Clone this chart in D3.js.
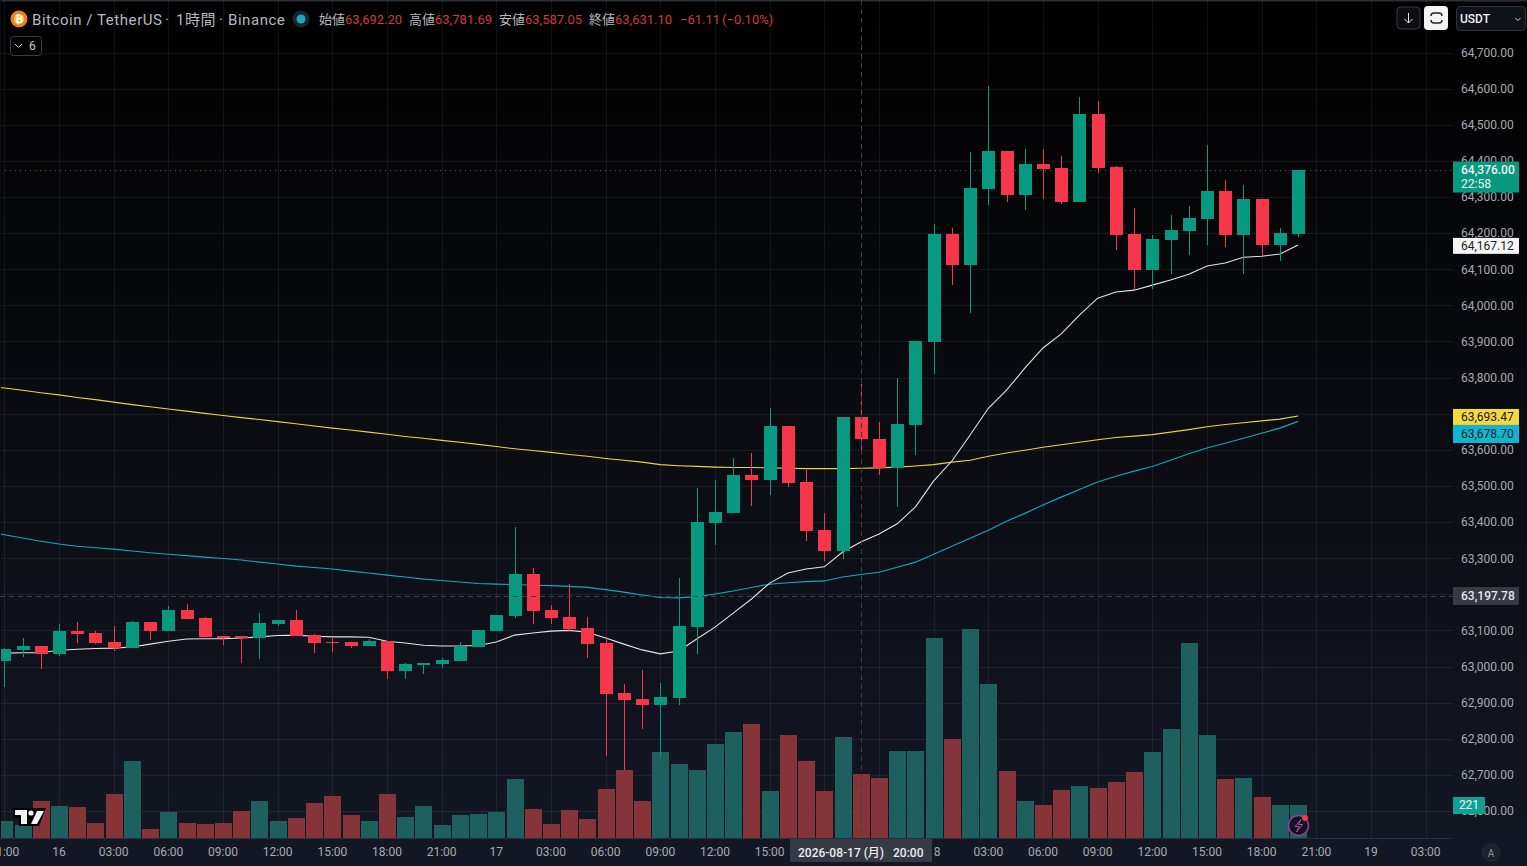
<!DOCTYPE html>
<html>
<head>
<meta charset="utf-8">
<style>
  html, body { margin: 0; padding: 0; background: #000; overflow: hidden; }
  svg { display: block; font-family: Roboto, "Noto Sans CJK JP", sans-serif; }
</style>
<script src="https://cdn.jsdelivr.net/npm/d3@7"></script>
</head>
<body>
<svg></svg>
<script>
const width = 1527;
const height = 866;
const plotBottom = 838;
const plotRight = 1453;

// hours counted from 08-16 00:00, first candle is 08-15 21:00
const firstHour = -3;

const opens = [63015,63046,63057,63035,63098,63093,63068,63051,63123,63098,63156,63134,63084,63084,63079,63118,63129,63087,63068,63068,63057,63071,62987,63004,63007,63015,63054,63098,63140,63256,63156,63137,63106,63065,62926,62910,62893,62912,63109,63397,63425,63530,63517,63666,63511,63378,63320,63692.20,63631,63550,63669,63898,64197,64111,64322,64427,64305,64391,64380,64286,64529,64383,64197,64097,64180,64205,64239,64316,64194,64294,64167,64197];
const highs = [63051,63079,63057,63118,63123,63098,63112,63126,63123,63167,63173,63137,63084,63084,63148,63129,63156,63090,63082,63068,63076,63071,63010,63010,63023,63068,63101,63142,63386,63273,63170,63228,63137,63082,62951,62990,62954,63245,63494,63517,63577,63591,63715,63666,63544,63425,63691,63781.69,63677,63798,63901,64225,64214,64424,64607,64427,64432,64432,64413,64577,64565,64386,64269,64194,64250,64275,64444,64347,64333,64294,64214,64376];
const lows = [62943,63026,62993,63029,63065,63062,63043,63051,63073,63098,63131,63082,63059,63010,63021,63112,63084,63037,63040,63051,63057,62965,62965,62979,62996,63015,63054,63098,63134,63118,63118,63098,63023,62752,62713,62827,62749,62893,63035,63336,63425,63444,63475,63497,63347,63292,63298,63587.05,63530,63442,63586,63810,64056,63979,64278,64286,64264,64294,64280,64286,64366,64153,64042,64045,64086,64139,64167,64161,64086,64136,64122,64189];
const closes = [63048,63057,63035,63098,63090,63065,63051,63123,63098,63156,63131,63082,63080,63080,63120,63129,63084,63065,63065,63057,63071,62987,63007,63010,63018,63057,63101,63142,63256,63154,63134,63104,63062,62924,62907,62893,62915,63112,63400,63428,63530,63517,63666,63508,63375,63320,63691,63631.10,63550,63671,63901,64197,64111,64325,64427,64305,64391,64377,64286,64529,64380,64194,64097,64183,64208,64241,64316,64194,64294,64167,64200,64376];
const volumes = [114,87,248,214,208,100,295,516,60,174,100,94,100,181,248,114,134,235,281,154,114,295,141,214,87,154,161,174,395,194,94,188,127,328,456,248,576,496,456,630,710,764,315,690,516,315,677,429,402,583,583,1340,663,1400,1032,449,248,221,322,348,335,375,442,576,730,1306,690,395,402,275,221,221];

const maFast = [63037,63038,63038,63045,63048,63050,63051,63054,63062,63070,63076,63077,63077,63079,63082,63086,63087,63084,63082,63082,63081,63070,63065,63059,63057,63057,63058,63068,63087,63093,63098,63100,63095,63079,63062,63046,63035,63043,63076,63109,63148,63187,63231,63259,63270,63276,63317,63345,63367,63395,63442,63514,63569,63641,63715,63765,63826,63882,63921,63973,64020,64037,64042,64056,64070,64086,64109,64117,64133,64136,64142,64167.12];
// these two start one hour before the first candle, the line runs off the left edge
const maSlow = [63778,63771,63765,63758,63752,63745,63739,63732,63725,63719,63713,63707,63701,63695,63689,63684,63678,63672,63666,63660,63655,63649,63643,63637,63632,63626,63621,63615,63609,63603,63598,63593,63587,63582,63576,63571,63566,63559,63556,63554,63552,63551,63551,63550,63549,63548,63548,63548,63549,63550,63552,63555,63559,63566,63571,63582,63591,63599,63607,63614,63621,63628,63634,63638,63642,63649,63656,63664,63670,63675,63680,63685,63693.47];
const maMid = [63375,63365,63356,63347,63339,63333,63329,63325,63320,63315,63311,63307,63303,63299,63295,63289,63284,63278,63274,63270,63264,63259,63253,63248,63242,63238,63234,63230,63228,63227,63225,63224,63222,63219,63213,63206,63198,63191,63190,63193,63201,63209,63219,63228,63232,63235,63237,63248,63255,63261,63275,63289,63311,63333,63355,63377,63402,63424,63447,63469,63490,63511,63527,63541,63554,63571,63589,63605,63618,63632,63646,63660,63678.70];

const priceTicks = [64700,64600,64500,64400,64300,64200,64100,64000,63900,63800,63700,63600,63500,63400,63300,63200,63100,63000,62900,62800,62700,62600];
// these two sit fully under the price tags in the picture
const coveredPrices = [63700, 63200];
const hourTicks = [-3,0,3,6,9,12,15,18,21,24,27,30,33,36,39,42,45,48,51,54,57,60,63,66,69,72,75];
// 42 and 45 are under the crosshair time label
const hourLabels = ["21:00","16","03:00","06:00","09:00","12:00","15:00","18:00","21:00","17","03:00","06:00","09:00","12:00","15:00","","","18","03:00","06:00","09:00","12:00","15:00","18:00","21:00","19","03:00"];

const lastPrice = 64376;
const crossPrice = 63197.78;
const crossHour = 44;
const lastVolume = 221;

const legendCells = [
    ["始値", "63,692.20", 319],
    ["高値", "63,781.69", 409],
    ["安値", "63,587.05", 499],
    ["終値", "63,631.10", 589],
];

const upColor = "#089981";
const downColor = "#f6364a";
const upVolColor = "#1d605f";
const downVolColor = "#85343a";
const labelColor = "#a9abb0";
const legendRed = "#d03845";

const x = d3.scaleLinear().domain([0, 72]).range([59, 1371]);
const y = d3.scaleLinear().domain([64700, 62600]).range([52.5, 811]);
const yVol = d3.scaleLinear().domain([0, 1400]).range([plotBottom, 629]);

const svg = d3.select("svg")
    .attr("width", width)
    .attr("height", height)
    .attr("viewBox", `0 0 ${width} ${height}`);

const grad = svg.append("defs").append("linearGradient")
    .attr("id", "bg").attr("x1", 0).attr("x2", 0).attr("y1", 0).attr("y2", 1);
grad.append("stop").attr("offset", "0%").attr("stop-color", "#000000");
grad.append("stop").attr("offset", "12%").attr("stop-color", "#030304");
grad.append("stop").attr("offset", "100%").attr("stop-color", "#141824");

svg.append("rect").attr("width", width).attr("height", height).attr("fill", "url(#bg)");
svg.append("rect").attr("width", width).attr("height", 1.5).attr("fill", "#2a2e39");

// grid
svg.append("g").selectAll("line")
    .data(hourTicks)
    .enter().append("line")
    .attr("x1", d => Math.round(x(d)) + 0.5)
    .attr("x2", d => Math.round(x(d)) + 0.5)
    .attr("y1", 0)
    .attr("y2", plotBottom)
    .attr("stroke", "rgba(255,255,255,0.065)");

svg.append("g").selectAll("line")
    .data(priceTicks)
    .enter().append("line")
    .attr("x1", 0)
    .attr("x2", plotRight)
    .attr("y1", d => Math.round(y(d)) + 0.5)
    .attr("y2", d => Math.round(y(d)) + 0.5)
    .attr("stroke", "rgba(255,255,255,0.065)");

svg.append("line")
    .attr("x1", 0).attr("x2", plotRight)
    .attr("y1", plotBottom + 0.5).attr("y2", plotBottom + 0.5)
    .attr("stroke", "rgba(255,255,255,0.1)");

// volume
svg.append("g").selectAll("rect")
    .data(volumes)
    .enter().append("rect")
    .attr("x", (d, i) => Math.round(x(firstHour + i)) - 8)
    .attr("width", 17)
    .attr("y", d => yVol(d))
    .attr("height", d => plotBottom - yVol(d))
    .attr("fill", (d, i) => closes[i] >= opens[i] ? upVolColor : downVolColor)
    .attr("shape-rendering", "crispEdges");

// moving averages
const addLine = (values, startHour, color) => svg.append("path")
    .datum(values)
    .attr("fill", "none")
    .attr("stroke", color)
    .attr("stroke-width", 1.1)
    .attr("d", d3.line().x((d, i) => x(startHour + i)).y(d => y(d)));

addLine(maSlow, firstHour - 1, "#e8d24a");
addLine(maMid, firstHour - 1, "#12a9bd");
addLine(maFast, firstHour, "#e4e4e4");

// last price dotted line
svg.append("line")
    .attr("x1", 0).attr("x2", plotRight)
    .attr("y1", Math.round(y(lastPrice)) + 0.5).attr("y2", Math.round(y(lastPrice)) + 0.5)
    .attr("stroke", upColor)
    .attr("stroke-opacity", 0.85)
    .attr("stroke-dasharray", "1 4");

// candles
const candles = svg.append("g").selectAll("g")
    .data(opens)
    .enter().append("g")
    .attr("fill", (d, i) => closes[i] >= d ? upColor : downColor);

candles.append("rect")
    .attr("x", (d, i) => Math.round(x(firstHour + i)))
    .attr("width", 1)
    .attr("y", (d, i) => y(highs[i]))
    .attr("height", (d, i) => y(lows[i]) - y(highs[i]))
    .attr("shape-rendering", "crispEdges");

candles.append("rect")
    .attr("x", (d, i) => Math.round(x(firstHour + i)) - 6)
    .attr("width", 13)
    .attr("y", (d, i) => y(Math.max(d, closes[i])))
    .attr("height", (d, i) => Math.max(1, Math.abs(y(d) - y(closes[i]))))
    .attr("shape-rendering", "crispEdges");

// 1px border on the far left cuts the first candle
svg.append("rect").attr("width", 1).attr("height", plotBottom).attr("fill", "#0b0d12");

// crosshair
svg.append("line")
    .attr("x1", Math.round(x(crossHour)) + 0.5).attr("x2", Math.round(x(crossHour)) + 0.5)
    .attr("y1", 0).attr("y2", plotBottom)
    .attr("stroke", "#3c3f49")
    .attr("stroke-dasharray", "5 4");
svg.append("line")
    .attr("x1", 0).attr("x2", plotRight)
    .attr("y1", Math.ceil(y(crossPrice)) + 0.5).attr("y2", Math.ceil(y(crossPrice)) + 0.5)
    .attr("stroke", "#3c3f49")
    .attr("stroke-dasharray", "5 4");

// axes
const yAxis = d3.axisRight(y)
    .tickValues(priceTicks)
    .tickSize(0)
    .tickPadding(0)
    .tickFormat(d => coveredPrices.includes(d) ? "" : d3.format(",.2f")(d));
const yAxisG = svg.append("g").attr("transform", "translate(1461,0)").call(yAxis);
yAxisG.select(".domain").remove();
yAxisG.selectAll("text")
    .attr("fill", labelColor)
    .style("font-size", "12px")
    .style("font-family", "Roboto, sans-serif");

const xAxis = d3.axisBottom(x)
    .tickValues(hourTicks)
    .tickSize(0)
    .tickPadding(9)
    .tickFormat((d, i) => hourLabels[i]);
const xAxisG = svg.append("g").attr("transform", `translate(-0.5,${plotBottom})`).call(xAxis);
xAxisG.select(".domain").remove();
xAxisG.selectAll("text")
    .attr("fill", labelColor)
    .style("font-size", "12px")
    .style("font-family", "Roboto, sans-serif");

// price tags on the right scale, shift moves a tag off its exact price like the chart does when they collide
const tag = (value, text, bg, fg, h, shift, weight) => {
    const cy = y(value) + shift;
    svg.append("rect")
        .attr("x", plotRight).attr("y", cy - h / 2)
        .attr("width", 66).attr("height", h)
        .attr("fill", bg);
    svg.append("text")
        .attr("x", 1461).attr("y", cy)
        .attr("dy", "0.36em")
        .attr("fill", fg)
        .style("font-size", "12px")
        .style("font-weight", weight || 400)
        .text(text);
};

tag(63197.78, "63,197.78", "#363a45", "#e6e6e6", 18, 0.9, 500);
tag(63693.47, "63,693.47", "#f5d93c", "#1a1a1a", 16, 0.9);
tag(63678.70, "63,678.70", "#12b5cf", "#10202a", 18, 12.6);
tag(64167.12, "64,167.12", "#f5f5f5", "#222222", 16, 0.9);

const lastY = y(lastPrice);
svg.append("rect")
    .attr("x", plotRight).attr("y", lastY - 8)
    .attr("width", 66).attr("height", 31)
    .attr("fill", upColor);
svg.append("text").attr("x", 1461).attr("y", lastY + 4.5)
    .attr("fill", "#f2f2f2").style("font-size", "12px").style("font-weight", 500)
    .text("64,376.00");
svg.append("text").attr("x", 1461).attr("y", lastY + 18.5)
    .attr("fill", "#f2f2f2").style("font-size", "12px")
    .text("22:58");

// volume tag
svg.append("rect")
    .attr("x", plotRight).attr("y", yVol(lastVolume) - 8)
    .attr("width", 32).attr("height", 17)
    .attr("fill", "#0fa193");
svg.append("text")
    .attr("x", plotRight + 16).attr("y", yVol(lastVolume))
    .attr("dy", "0.36em")
    .attr("text-anchor", "middle")
    .attr("fill", "#f2f2f2")
    .style("font-size", "12px")
    .text(lastVolume);

// crosshair time label
svg.append("rect")
    .attr("x", 790).attr("y", plotBottom + 1)
    .attr("width", 142).attr("height", 23)
    .attr("fill", "#363a45");
svg.append("text")
    .attr("x", 798).attr("y", 857)
    .attr("fill", "#ececec")
    .style("font-size", "12px").style("font-weight", 500)
    .text("2026-08-17 (月)");
svg.append("text")
    .attr("x", 893).attr("y", 857)
    .attr("fill", "#ececec")
    .style("font-size", "12px").style("font-weight", 500)
    .text("20:00");

// legend row
svg.append("circle").attr("cx", 19).attr("cy", 19).attr("r", 8.5).attr("fill", "#f0811a");
svg.append("circle").attr("cx", 19).attr("cy", 19).attr("r", 5).attr("fill", "#f6c64a");
svg.append("text").attr("x", 19).attr("y", 22.5)
    .attr("text-anchor", "middle").attr("fill", "#fff")
    .style("font-size", "10px").style("font-weight", 700).text("₿");

[["Bitcoin / TetherUS", 32], ["·", 165], ["1時間", 176], ["·", 219], ["Binance", 228]].forEach(([t, tx]) => {
    svg.append("text")
        .attr("x", tx).attr("y", 25)
        .attr("fill", "#b6b8bd")
        .style("font-size", "15px")
        .style("letter-spacing", "0.55px")
        .text(t);
});

svg.append("circle").attr("cx", 301).attr("cy", 19).attr("r", 8.5).attr("fill", "#1b2431");
svg.append("circle").attr("cx", 301).attr("cy", 19).attr("r", 4.5).attr("fill", "#1aa5b8");

legendCells.forEach(([label, value, lx]) => {
    svg.append("text").attr("x", lx).attr("y", 24)
        .attr("fill", "#b6b8bd").style("font-size", "13px").text(label);
    svg.append("text").attr("x", lx + 26).attr("y", 24)
        .attr("fill", legendRed).style("font-size", "13px").text(value);
});
svg.append("text").attr("x", 680).attr("y", 24)
    .attr("fill", legendRed).style("font-size", "13px").text("−61.11");
svg.append("text").attr("x", 722).attr("y", 24)
    .attr("fill", legendRed).style("font-size", "13px").text("(−0.10%)");

// collapsed indicators button
svg.append("rect")
    .attr("x", 10.5).attr("y", 36.5).attr("width", 31).attr("height", 19).attr("rx", 3)
    .attr("fill", "#030304").attr("stroke", "#3a3d45");
svg.append("path")
    .attr("d", "M15 44 l3.5 3.5 l3.5 -3.5")
    .attr("fill", "none").attr("stroke", "#c4c6cb");
svg.append("text").attr("x", 29).attr("y", 50)
    .attr("fill", "#c4c6cb").style("font-size", "12px").text("6");

// top right buttons
svg.append("rect")
    .attr("x", 1397).attr("y", 7).attr("width", 23).attr("height", 22).attr("rx", 4)
    .attr("fill", "#0c0e12").attr("stroke", "#363a45");
svg.append("path")
    .attr("d", "M1408.5 13 v10 M1404.5 19 l4 4 l4 -4")
    .attr("fill", "none").attr("stroke", "#e6e6e6");
svg.append("rect")
    .attr("x", 1424).attr("y", 6).attr("width", 24).attr("height", 24).attr("rx", 4)
    .attr("fill", "#f4f4f4");
svg.append("path")
    .attr("d", "M1431 16 a3 3 0 0 1 3 -3 h5 a3 3 0 0 1 3 3 M1431 20 a3 3 0 0 0 3 3 h5 a3 3 0 0 0 3 -3")
    .attr("fill", "none").attr("stroke", "#222").attr("stroke-width", 1.4);
svg.append("rect")
    .attr("x", 1456.5).attr("y", 6.5).attr("width", 69).attr("height", 24).attr("rx", 4)
    .attr("fill", "#0f1218").attr("stroke", "#2f333d");
svg.append("text").attr("x", 1460).attr("y", 23)
    .attr("fill", "#f0f0f0").style("font-size", "12px").style("font-weight", 500).text("USDT");
svg.append("path")
    .attr("d", "M1515.5 18 l2.5 2.5 l2.5 -2.5")
    .attr("fill", "none").attr("stroke", "#d0d0d0");

// logo
const logo = svg.append("g").attr("transform", "translate(12,808)");
logo.append("path")
    .attr("d", "M1 0 H34 L27 18 H7 V10 H1 Z")
    .attr("fill", "#000");
logo.append("path")
    .attr("d", "M3 2 H15 V16 H9 V7 H3 Z M25 3 H32 L25 16 H19 Z")
    .attr("fill", "#f2f2f2");
logo.append("circle").attr("cx", 19).attr("cy", 5).attr("r", 2.6).attr("fill", "#f2f2f2");

// lightning badge
svg.append("circle").attr("cx", 1298.5).attr("cy", 825.5).attr("r", 10)
    .attr("fill", "#16121f").attr("stroke", "#8e3f9e").attr("stroke-width", 1.5);
svg.append("path")
    .attr("d", "M1301 819.5 L1295 826.5 H1299 L1296.5 832 L1302.5 824.5 H1298.5 Z")
    .attr("fill", "none").attr("stroke", "#a24bb5");
svg.append("circle").attr("cx", 1305).attr("cy", 818).attr("r", 3).attr("fill", "#f6364a");

// auto scale button
svg.append("circle").attr("cx", 1491).attr("cy", 852.5).attr("r", 8.5)
    .attr("fill", "#1d212c").attr("stroke", "#2a2e39");
svg.append("text").attr("x", 1491).attr("y", 856.5)
    .attr("text-anchor", "middle").attr("fill", "#8a8d95")
    .style("font-size", "10px").text("A");
</script>
</body>
</html>
